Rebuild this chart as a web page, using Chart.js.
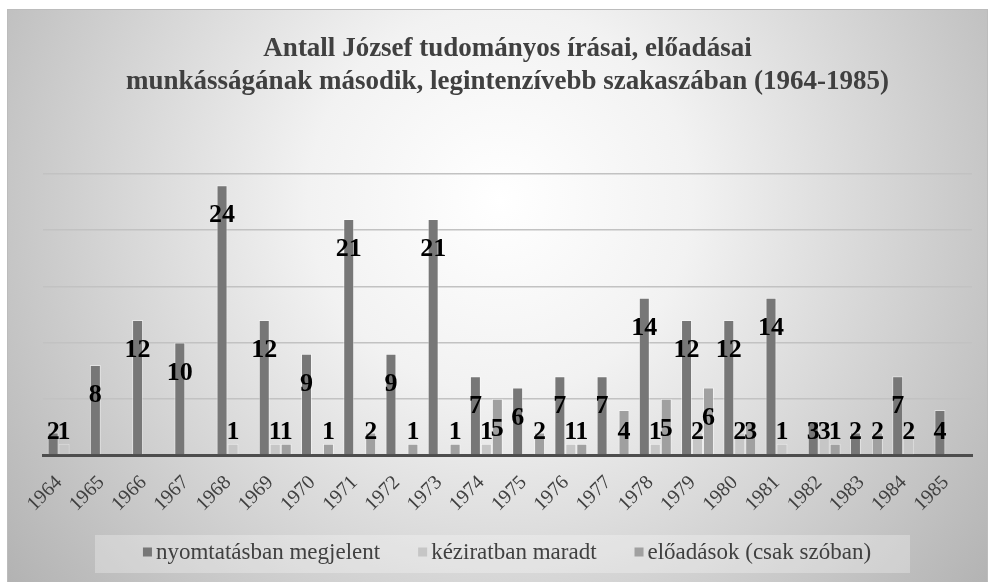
<!DOCTYPE html>
<html><head><meta charset="utf-8">
<script src="https://cdn.jsdelivr.net/npm/chart.js@4.4.0/dist/chart.umd.min.js"></script>
<style>html,body{margin:0;padding:0;background:#fff;overflow:hidden}#wrap{width:990px;height:582px;position:relative}</style>
</head><body><div id="wrap"><canvas id="c" width="990" height="582"></canvas></div>
<script>
const years = ['1964','1965','1966','1967','1968','1969','1970','1971','1972','1973','1974','1975','1976','1977','1978','1979','1980','1981','1982','1983','1984','1985'];
const printed    = [2, 8, 12, 10, 24, 12, 9, 21, 9, 21, 7, 6, 7, 7, 14, 12, 12, 14, 3, 2, 7, 4];
const manuscript = [1, null, null, null, 1, 1, null, null, null, null, 1, null, 1, null, 1, 2, 2, 1, 3, null, 2, null];
const lectures   = [null, null, null, null, null, 1, 1, 2, 1, 1, 5, 2, 1, 4, 5, 6, 3, null, 1, 2, null, null];
const seriesNames = ['nyomtatásban megjelent', 'kéziratban maradt', 'előadások (csak szóban)'];
const titleLines = ['Antall József tudományos írásai, előadásai', 'munkásságának második, legintenzívebb szakaszában (1964-1985)'];
const colors = ['#777777', '#c6c6c6', '#a0a0a0'];

const bgPlugin = {
  id: 'bg',
  beforeDraw(chart) {
    const ctx = chart.ctx;
    ctx.save();
    ctx.fillStyle = '#ffffff';
    ctx.fillRect(0, 0, 990, 582);
    const g = ctx.createRadialGradient(500, 200, 0, 500, 200, 640);
    g.addColorStop(0, '#ffffff');
    g.addColorStop(0.3, '#f2f2f2');
    g.addColorStop(1, '#b0b0b0');
    ctx.fillStyle = g;
    ctx.fillRect(7, 9, 981, 573);
    ctx.strokeStyle = '#bcbcbc';
    ctx.lineWidth = 1;
    ctx.strokeRect(7.5, 9.5, 980, 580);
    ctx.fillStyle = 'rgba(255,255,255,0.28)';
    ctx.fillRect(95, 535, 815, 38);
    ctx.restore();
  }
};

const valuePlugin = {
  id: 'vals',
  afterDatasetsDraw(chart) {
    const ctx = chart.ctx;
    ctx.save();
    ctx.font = 'bold 26px "Liberation Serif"';
    ctx.fillStyle = '#000';
    ctx.textAlign = 'center';
    ctx.textBaseline = 'alphabetic';
    chart.data.datasets.forEach((ds, di) => {
      const meta = chart.getDatasetMeta(di);
      meta.data.forEach((el, i) => {
        const v = ds.data[i];
        if (v == null) return;
        const y = Math.min(el.y + 37, el.base - 15);
        ctx.fillText(String(v), el.x, y);
      });
    });
    ctx.restore();
  }
};

const legendPlugin = {
  id: 'mylegend',
  afterDraw(chart) {
    const ctx = chart.ctx;
    ctx.save();
    ctx.font = '23px "Liberation Serif"';
    ctx.textBaseline = 'middle';
    ctx.textAlign = 'left';
    const box = 9, gapIn = 4, gapOut = 38;
    const widths = chart.data.datasets.map(d => box + gapIn + ctx.measureText(d.label).width);
    const total = widths.reduce((a, b) => a + b, 0) + gapOut * (widths.length - 1);
    let x = 507 - total / 2;
    const yc = 552;
    chart.data.datasets.forEach((d, i) => {
      ctx.fillStyle = d.backgroundColor;
      ctx.fillRect(x, yc - box / 2, box, box);
      ctx.fillStyle = '#404040';
      ctx.fillText(d.label, x + box + gapIn, yc + 1);
      x += widths[i] + gapOut;
    });
    ctx.restore();
  }
};

new Chart(document.getElementById('c'), {
  type: 'bar',
  data: {
    labels: years,
    datasets: [printed, manuscript, lectures].map((arr, i) => ({
      label: seriesNames[i],
      data: arr,
      backgroundColor: colors[i],
      borderColor: 'rgba(255,255,255,0.45)',
      borderWidth: 1,
      categoryPercentage: 0.78,
      barPercentage: 1.0
    }))
  },
  options: {
    responsive: false,
    animation: false,
    devicePixelRatio: 1,
    layout: { padding: { left: 43, right: 18, top: 0, bottom: 0 } },
    plugins: {
      legend: { display: false },
      tooltip: { enabled: false },
      title: {
        display: true,
        text: titleLines,
        color: '#404040',
        font: { family: '"Liberation Serif"', size: 27, weight: 'bold', lineHeight: 1.222 },
        padding: { top: 33, bottom: 75 }
      }
    },
    scales: {
      x: {
        grid: { display: false, drawTicks: false },
        border: { display: true, color: '#4d4d4d', width: 3 },
        ticks: { color: '#404040', font: { family: '"Liberation Serif"', size: 20 }, minRotation: 45, maxRotation: 45, padding: 16, labelOffset: -5, autoSkip: false },
        afterFit(s) { s.height = 127; }
      },
      y: {
        min: 0, max: 25,
        ticks: { display: false, stepSize: 5 },
        grid: { color: '#c2c2c2', lineWidth: 1.5, drawTicks: false },
        border: { display: false },
        afterFit(s) { s.width = 0; }
      }
    }
  },
  plugins: [bgPlugin, valuePlugin, legendPlugin]
});
</script>
</body></html>
